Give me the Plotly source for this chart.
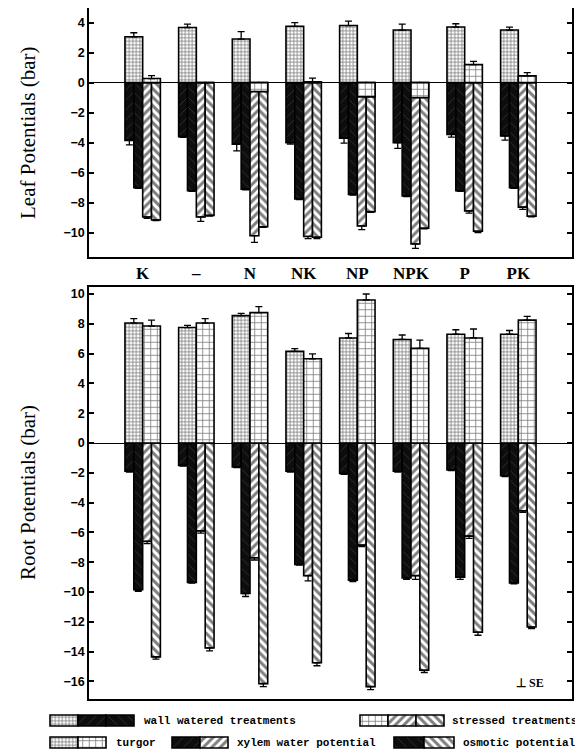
import plotly.graph_objects as go

# ---------------- data ----------------
categories = ["K", "–", "N", "NK", "NP", "NPK", "P", "PK"]

leaf_ww_turgor = [3.05, 3.67, 2.9, 3.75, 3.8, 3.5, 3.7, 3.5]
leaf_ww_turgor_se = [0.27, 0.22, 0.5, 0.25, 0.3, 0.4, 0.22, 0.2]
leaf_ww_xylem = [-3.85, -3.6, -4.1, -4.0, -3.7, -4.0, -3.45, -3.55]
leaf_ww_xylem_se = [0.3, 0.05, 0.45, 0.1, 0.33, 0.38, 0.18, 0.28]
leaf_ww_osmotic = [-7.0, -7.2, -7.1, -7.75, -7.45, -7.55, -7.2, -7.0]
leaf_ww_osmotic_se = [0.05, 0.05, 0.05, 0.05, 0.05, 0.05, 0.05, 0.05]
leaf_s_turgor = [0.27, 0.0, -0.6, 0.05, -0.95, -1.0, 1.2, 0.45]
leaf_s_turgor_se = [0.2, 0.0, 0.0, 0.25, 0.0, 0.0, 0.22, 0.22]
leaf_s_xylem = [-8.95, -8.95, -10.2, -10.25, -9.55, -10.75, -8.55, -8.3]
leaf_s_xylem_se = [0.1, 0.3, 0.45, 0.15, 0.25, 0.3, 0.15, 0.15]
leaf_s_osmotic = [-9.15, -8.85, -9.6, -10.3, -8.6, -9.7, -9.9, -8.9]
leaf_s_osmotic_se = [0.05, 0.05, 0.05, 0.1, 0.05, 0.05, 0.1, 0.05]

root_ww_turgor = [8.05, 7.75, 8.55, 6.15, 7.05, 6.95, 7.3, 7.3]
root_ww_turgor_se = [0.3, 0.15, 0.15, 0.18, 0.3, 0.3, 0.3, 0.25]
root_ww_xylem = [-1.9, -1.5, -1.6, -1.9, -2.05, -1.9, -1.8, -2.2]
root_ww_xylem_se = [0.05, 0.05, 0.05, 0.05, 0.05, 0.05, 0.05, 0.05]
root_ww_osmotic = [-9.85, -9.35, -10.1, -8.15, -9.2, -9.05, -9.0, -9.4]
root_ww_osmotic_se = [0.1, 0.05, 0.2, 0.05, 0.1, 0.1, 0.15, 0.05]
root_s_turgor = [7.85, 8.05, 8.75, 5.65, 9.6, 6.35, 7.05, 8.25]
root_s_turgor_se = [0.4, 0.3, 0.4, 0.33, 0.4, 0.55, 0.6, 0.25]
root_s_xylem = [-6.6, -5.9, -7.7, -8.9, -6.85, -8.9, -6.25, -4.55]
root_s_xylem_se = [0.15, 0.15, 0.15, 0.35, 0.1, 0.25, 0.15, 0.1]
root_s_osmotic = [-14.35, -13.75, -16.15, -14.75, -16.35, -15.25, -12.7, -12.35]
root_s_osmotic_se = [0.15, 0.2, 0.2, 0.2, 0.2, 0.15, 0.2, 0.1]

leaf_ticks = [-10, -8, -6, -4, -2, 0, 2, 4]
root_ticks = [-16, -14, -12, -10, -8, -6, -4, -2, 0, 2, 4, 6, 8, 10]

# ---------------- geometry helpers (page pixels -> paper) ----------------
OFF = 8                       # default page margin of the html body
W, H = 583 - OFF, 756 - OFF


def px(x):
    return (x - OFF) / W


def py(y):
    return min(1.0, max(0.0, 1 - (y - OFF) / H))


OUT = dict(color="black", width=1.6)


def pat(shape, fg, bg, size, sol):
    return dict(shape=shape, fgcolor=fg, bgcolor=bg, size=size, solidity=sol, fillmode="overlay")


STY = {
    "ww_turgor": dict(color="white", line=OUT, pattern=pat("+", "black", "white", 3.5, 0.42)),
    "ww_xylem": dict(color="#0d0d0d", line=OUT, pattern=pat("/", "#6e6e6e", "#0d0d0d", 7, 0.1)),
    "ww_osmotic": dict(color="#0d0d0d", line=OUT, pattern=pat("\\", "#6e6e6e", "#0d0d0d", 7, 0.1)),
    "s_turgor": dict(color="white", line=OUT, pattern=pat("+", "black", "white", 6.5, 0.24)),
    "s_xylem": dict(color="white", line=OUT, pattern=pat("/", "black", "white", 6, 0.5)),
    "s_osmotic": dict(color="white", line=OUT, pattern=pat("\\", "black", "white", 6, 0.5)),
}

SLOT = 0.165
GEOM = {  # offset, width in category units
    "ww_xylem": (-2 * SLOT, SLOT),
    "ww_osmotic": (-SLOT, SLOT),
    "s_xylem": (0.0, SLOT),
    "s_osmotic": (SLOT, SLOT),
    "ww_turgor": (-2 * SLOT, 2 * SLOT),
    "s_turgor": (0.0, 2 * SLOT),
}

fig = go.Figure()
xs = list(range(len(categories)))


def add(key, vals, se, xa, ya):
    off, wd = GEOM[key]
    plus = [s if v > 0 else 0 for v, s in zip(vals, se)]
    minus = [s if v < 0 else 0 for v, s in zip(vals, se)]
    fig.add_trace(go.Bar(
        x=xs, y=vals, offset=off, width=wd, marker=STY[key],
        error_y=dict(type="data", symmetric=False, array=plus, arrayminus=minus,
                     color="black", thickness=1.3, width=3.5),
        xaxis=xa, yaxis=ya, showlegend=False, hoverinfo="skip"))


order = ["ww_xylem", "ww_osmotic", "s_xylem", "s_osmotic", "ww_turgor", "s_turgor"]
leaf = {
    "ww_xylem": (leaf_ww_xylem, leaf_ww_xylem_se), "ww_osmotic": (leaf_ww_osmotic, leaf_ww_osmotic_se),
    "s_xylem": (leaf_s_xylem, leaf_s_xylem_se), "s_osmotic": (leaf_s_osmotic, leaf_s_osmotic_se),
    "ww_turgor": (leaf_ww_turgor, leaf_ww_turgor_se), "s_turgor": (leaf_s_turgor, leaf_s_turgor_se),
}
root = {
    "ww_xylem": (root_ww_xylem, root_ww_xylem_se), "ww_osmotic": (root_ww_osmotic, root_ww_osmotic_se),
    "s_xylem": (root_s_xylem, root_s_xylem_se), "s_osmotic": (root_s_osmotic, root_s_osmotic_se),
    "ww_turgor": (root_ww_turgor, root_ww_turgor_se), "s_turgor": (root_s_turgor, root_s_turgor_se),
}
for k in order:
    add(k, *leaf[k], "x", "y")
for k in order:
    add(k, *root[k], "x2", "y2")

# ---------------- legend (decorative swatches on a hidden axis in page-pixel units) ----------------
SW_H = 11
legend_rows = [
    (715, [(50, 28, ["ww_turgor", "ww_xylem", "ww_osmotic"], 142, "wall watered treatments"),
           (360, 28, ["s_turgor", "s_xylem", "s_osmotic"], 450, "stressed treatments")]),
    (737, [(50, 28, ["ww_turgor", "s_turgor"], 114, "turgor"),
           (172, 28, ["ww_xylem", "s_xylem"], 235, "xylem water potential"),
           (394, 30, ["ww_osmotic", "s_osmotic"], 461, "osmotic potential")]),
]
annotations = []
for ytop, groups in legend_rows:
    for x0, sw, styles, tx, txt in groups:
        for i, st in enumerate(styles):
            fig.add_trace(go.Bar(x=[x0 + sw * i + sw / 2], y=[SW_H], base=[ytop], width=[sw],
                                 marker=STY[st], xaxis="x3", yaxis="y3",
                                 showlegend=False, hoverinfo="skip"))
        annotations.append(dict(x=px(tx), y=py(ytop + SW_H / 2), xref="paper", yref="paper",
                                text=txt, showarrow=False, xanchor="left", yanchor="middle",
                                font=dict(family="Liberation Mono", size=11, weight="bold",
                                          color="black")))

# ---------------- layout ----------------
X0, X1 = px(89), px(572)
top_dom = [py(257), py(8)]
bot_dom = [py(699), py(287)]

tickfont = dict(family="Liberation Sans", size=12.5, weight="bold", color="black")
ax_common = dict(showline=True, linecolor="black", linewidth=1.6, mirror="ticks",
                 showgrid=False, automargin=False)

annotations += [
    dict(x=px(28), y=py(133), xref="paper", yref="paper", text="Leaf Potentials (bar)",
         textangle=-90, showarrow=False, xanchor="center", yanchor="middle",
         font=dict(family="Liberation Serif", size=21, color="black")),
    dict(x=px(28), y=py(493), xref="paper", yref="paper", text="Root Potentials (bar)",
         textangle=-90, showarrow=False, xanchor="center", yanchor="middle",
         font=dict(family="Liberation Serif", size=21, color="black")),
    dict(x=px(530), y=py(683), xref="paper", yref="paper", text="⊥ SE",
         showarrow=False, xanchor="center", yanchor="middle",
         font=dict(family="Liberation Serif", size=12, weight="bold", color="black")),
]

fig.update_layout(
    width=W, height=H, template="none",
    margin=dict(l=0, r=0, t=0, b=0),
    paper_bgcolor="white", plot_bgcolor="white",
    barmode="overlay", showlegend=False,
    xaxis=dict(domain=[X0, X1], anchor="y", range=[-1, 8], tickvals=xs, ticktext=categories,
               ticks="", tickfont=dict(family="Liberation Serif", size=17, weight="bold",
                                       color="black"),
               **ax_common),
    yaxis=dict(domain=top_dom, anchor="x", range=[-11.62, 4.97], tickvals=leaf_ticks,
               ticks="inside", ticklen=5, tickwidth=1.5, tickcolor="black",
               tickfont=tickfont, zeroline=True, zerolinecolor="black", zerolinewidth=1.3,
               **ax_common),
    xaxis2=dict(domain=[X0, X1], anchor="y2", range=[-1, 8], showticklabels=False, ticks="",
                **ax_common),
    yaxis2=dict(domain=bot_dom, anchor="x2", range=[-17.18, 10.47], tickvals=root_ticks,
                ticks="inside", ticklen=5, tickwidth=1.5, tickcolor="black",
                tickfont=tickfont, zeroline=True, zerolinecolor="black", zerolinewidth=1.3,
                **ax_common),
    xaxis3=dict(domain=[0, 1], anchor="y3", range=[OFF, OFF + W], visible=False),
    yaxis3=dict(domain=[0, py(705)], anchor="x3", range=[OFF + H, 705], visible=False),
    annotations=annotations,
    font=dict(family="Liberation Sans", color="black"),
)

fig.write_html("out.html")
